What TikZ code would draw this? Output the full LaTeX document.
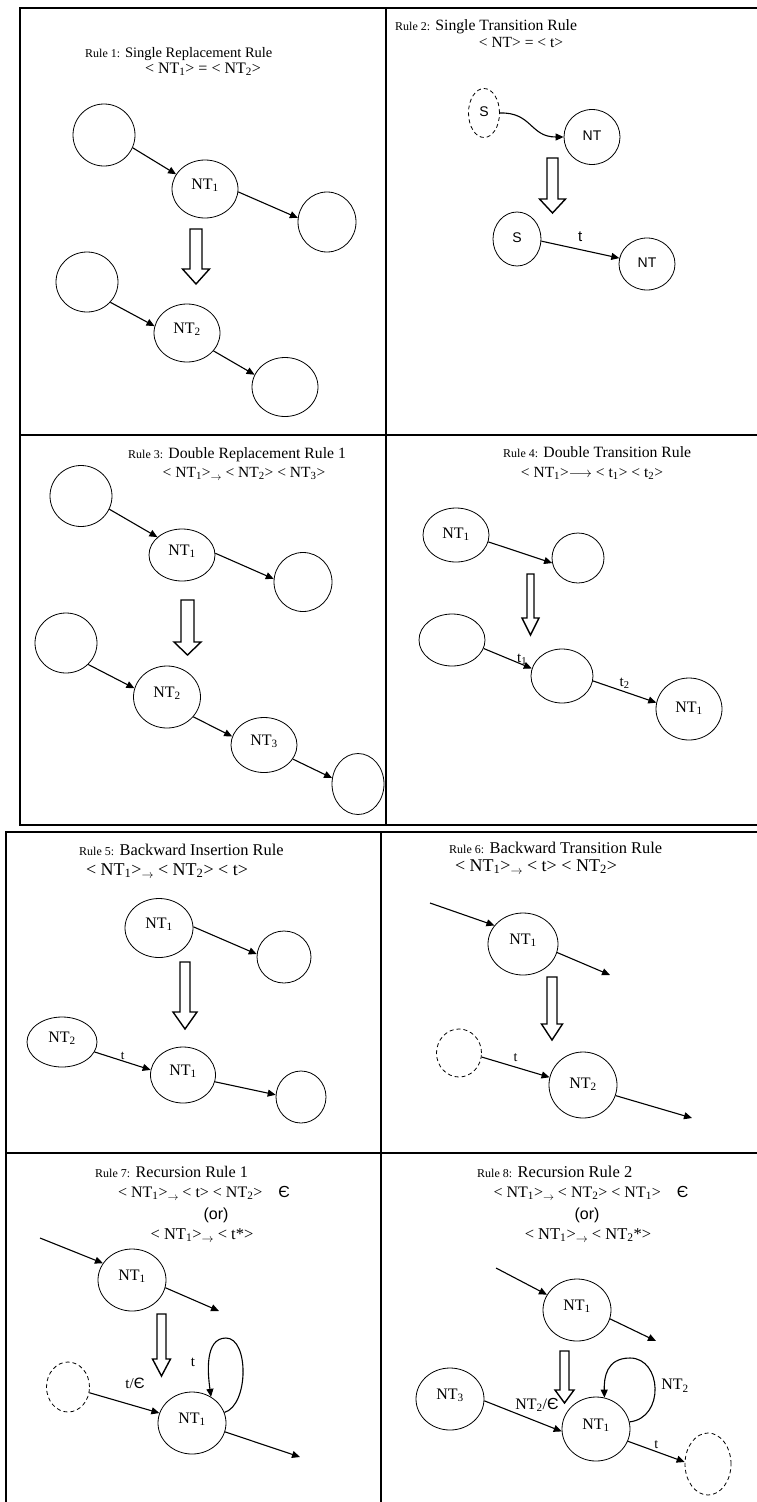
\documentclass[tikz,border=0pt]{standalone}
\usepackage{fontspec}
\setmainfont{Liberation Serif}
\newfontfamily\sans{Liberation Sans}
\usetikzlibrary{arrows.meta,shapes.geometric}

\newcommand{\rno}[1]{{\fontsize{12}{14}\selectfont Rule #1:} }
\newcommand{\ts}[1]{\textsubscript{#1}}
\newcommand{\sarr}{\raisebox{-3.5pt}{$\scriptstyle\rightarrow$}}
\newcommand{\eps}{{\sans Є}}
\newcommand{\fs}[1]{\fontsize{#1}{#1}\selectfont}

\begin{document}
\begin{tikzpicture}[x=1pt, y=-1pt,
    state/.style={draw, ellipse, inner sep=0pt, line width=0.8pt, font=\fs{16}, text depth=10pt},
    ghost/.style={state, dash pattern=on 4pt off 3pt},
    size/.style 2 args={minimum width=#1pt, minimum height=#2pt},
    sf/.style={font=\sans\fs{14}, text depth=2pt},
    edge/.style={-{Triangle[length=8pt,width=7pt]}, line width=1.1pt},
    grid/.style={line width=1.6pt},
    title/.style={anchor=base west, inner sep=0pt, font=\fs{15.7}},
    rule/.style={anchor=base, inner sep=0pt, font=\fs{15.5}},
    lab/.style={inner sep=1pt, font=\fs{13}},
    pics/rewrite/.style args={#1/#2/#3/#4}{code={
        \draw[line width=1.4pt] (-#2,0) -- (#2,0) -- (#2,#1-#4) -- (#3,#1-#4)
            -- (0,#1) -- (-#3,#1-#4) -- (-#2,#1-#4) -- cycle;
    }}]
    \useasboundingbox (0,0) rectangle (757,1502);

    % upper table
    \draw[grid] (760,8) -- (20,8) -- (20,825) -- (760,825);
    \draw[grid] (20,435) -- (760,435);
    \draw[grid] (386,8) -- (386,825);
    % lower table
    \draw[grid] (760,832) -- (6,832) -- (6,1505);
    \draw[grid] (6,1153) -- (760,1153);
    \draw[grid] (381,832) -- (381,1505);

    % rule 1
    \node[title, font=\fs{14.5}] (r1t) at (85,57) {\rno{1}Single Replacement Rule};
    \node[rule, font=\fs{16}] (r1f) at (203,73) {< NT\ts{1}> = < NT\ts{2}>};
    \node[state, size={62}{62}] (r1a) at (104,135) {};
    \node[state, size={66}{58}] (r1n) at (205,189) {NT\ts{1}};
    \node[state, size={58}{60}] (r1b) at (327,222) {};
    \draw[edge] (r1a.-24) -- (r1n.153);
    \draw[edge] (r1n.-5) -- (r1b.172);
    \pic at (196,229) {rewrite=55/6/13.5/15};
    \node[state, size={62}{60}] (r1c) at (87,282) {};
    \node[state, size={66}{58}] (r1m) at (187,333) {NT\ts{2}};
    \node[state, size={66}{59}] (r1d) at (285,387) {};
    \draw[edge] (r1c.-41) -- (r1m.168);
    \draw[edge] (r1m.-34) -- (r1d.158);

    % rule 2
    \node[title] (r2t) at (395,30.5) {\rno{2}Single Transition Rule};
    \node[rule] (r2f) at (521,47.5) {< NT> = < t>};
    \node[ghost, size={31}{49}, sf] (r2s) at (484,113) {S};
    \node[state, size={56}{55}, sf] (r2n) at (592,137) {NT};
    \draw[edge] (r2s.east) .. controls (532,112) and (530,137) .. (r2n.west);
    \pic at (552.5,158) {rewrite=55/5.5/13/14};
    \node[state, size={48}{54}, sf] (r2s') at (517,239) {S};
    \node[state, size={56}{52}, sf] (r2n') at (647,264) {NT};
    \draw[edge] (r2s'.-5) -- node[lab, sf, font=\sans\fs{15}, above=5pt] {t} (r2n'.168);

    % rule 3
    \node[title] (r3t) at (128,458) {\rno{3}Double Replacement Rule 1};
    \node[rule] (r3f) at (244,477) {< NT\ts{1}>\sarr{} < NT\ts{2}> < NT\ts{3}>};
    \node[state, size={62}{61}] (r3a) at (81,496) {};
    \node[state, size={66}{52}] (r3n) at (182,555) {NT\ts{1}};
    \node[state, size={58}{59}] (r3b) at (303,582) {};
    \draw[edge] (r3a.-25) -- (r3n.144);
    \draw[edge] (r3n.3) -- (r3b.174);
    \pic at (187.5,600) {rewrite=55/6.5/13.5/13};
    \node[state, size={62}{60}] (r3c) at (66,643) {};
    \node[state, size={67}{62}] (r3m) at (167,697) {NT\ts{2}};
    \node[state, size={66}{55}] (r3k) at (264,745) {NT\ts{3}};
    \node[state, size={52}{61}] (r3d) at (358,784) {};
    \draw[edge] (r3c.-44) -- (r3m.165);
    \draw[edge] (r3m.-37) -- (r3k.165);
    \draw[edge] (r3k.-26) -- (r3d.167);

    % rule 4
    \node[title] (r4t) at (503,457) {\rno{4}Double Transition Rule};
    \node[rule] (r4f) at (592,477) {< NT\ts{1}>$\longrightarrow$ < t\ts{1}> < t\ts{2}>};
    \node[state, size={66}{54}, text depth=4pt] (r4n) at (456,535) {NT\ts{1}};
    \node[state, size={52}{50}] (r4e) at (578,558) {};
    \draw[edge] (r4n.-12) -- (r4e.191);
    \pic at (530.5,574) {rewrite=61/3.5/8.5/17};
    \node[state, size={66}{52}] (r4l) at (452,640) {};
    \node[state, size={62}{54}] (r4m) at (562,676) {};
    \node[state, size={66}{62}, text depth=4pt] (r4n') at (689,709) {NT\ts{1}};
    \draw[edge] (r4l.-15) -- node[lab, pos=0.8, above=-2pt, font=\fs{15}] {t\ts{1}} (r4m.166);
    \draw[edge] (r4m.-9) -- node[lab, above=2pt, font=\fs{15}] {t\ts{2}} (r4n'.169);

    % rule 5
    \node[title, font=\fs{16.4}] (r5t) at (79,855) {\rno{5}Backward Insertion Rule};
    \node[rule, font=\fs{18}] (r5f) at (167,875) {< NT\ts{1}>\sarr{} < NT\ts{2}> < t>};
    \node[state, size={68}{59}] (r5n) at (159,928) {NT\ts{1}};
    \node[state, size={54}{52}] (r5e) at (284,957) {};
    \draw[edge] (r5n.2) -- (r5e.174);
    \pic at (185,962) {rewrite=67/5/12/17};
    \node[state, size={70}{50}] (r5m) at (62,1042) {NT\ts{2}};
    \node[state, size={65}{56}] (r5n') at (183,1075) {NT\ts{1}};
    \node[state, size={50}{52}] (r5e') at (301,1097) {};
    \draw[edge] (r5m.-17) -- node[lab, above=0pt] {t} (r5n'.171);
    \draw[edge] (r5n'.-12) -- (r5e'.175);

    % rule 6
    \node[title, font=\fs{16.4}] (r6t) at (449,853) {\rno{6}Backward Transition Rule};
    \node[rule, font=\fs{18}] (r6f) at (536,871) {< NT\ts{1}>\sarr{} < t> < NT\ts{2}>};
    \coordinate (r6i) at (430,903);
    \node[state, size={70}{62}] (r6n) at (523,944) {NT\ts{1}};
    \coordinate (r6o) at (610,975);
    \draw[edge] (r6i) -- (r6n.147);
    \draw[edge] (r6n.-14) -- (r6o);
    \pic at (552,977) {rewrite=63/5/10.5/16};
    \node[ghost, size={45}{48}] (r6d) at (459,1053) {};
    \node[state, size={68}{66}, text depth=4pt] (r6m) at (583,1085) {NT\ts{2}};
    \coordinate (r6o') at (692,1118);
    \draw[edge] (r6d.-10) -- node[lab, font=\fs{14}, above=4pt] {t} (r6m.167);
    \draw[edge] (r6m.-18) -- (r6o');

    % rule 7
    \node[title, font=\fs{16.2}] (r7t) at (95,1177) {\rno{7}Recursion Rule 1};
    \node[rule, font=\fs{16}] (r7f) at (204,1197) {< NT\ts{1}>\sarr{} < t> < NT\ts{2}>\quad\eps};
    \node[rule, font=\sans\fs{16}] (r7o) at (216,1219) {(or)};
    \node[rule, font=\fs{16.5}] (r7g) at (202,1239) {< NT\ts{1}>\sarr{} < t*>};
    \coordinate (r7i) at (40,1238);
    \node[state, size={68}{62}] (r7n) at (132,1280) {NT\ts{1}};
    \coordinate (r7o') at (219,1311);
    \draw[edge] (r7i) -- (r7n.150);
    \draw[edge] (r7n.-13) -- (r7o');
    \pic at (161.5,1314) {rewrite=62/4.5/9/17};
    \node[ghost, size={43}{50}] (r7d) at (68,1387) {};
    \node[state, size={68}{62}] (r7m) at (192,1423) {NT\ts{1}};
    \coordinate (r7p) at (300,1457);
    \draw[edge] (r7d.-15) -- (r7m.163);
    \draw[edge] (r7m.18) .. controls (249,1405) and (249,1338) .. (226,1338)
        .. controls (204,1338) and (208,1375) .. (r7m.54);
    \draw[edge] (r7m.-15) -- (r7p);
    \node[lab, font=\fs{15}] (r7l) at (193,1362) {t};
    \node[lab, font=\fs{15}] (r7l') at (135,1383) {t/\eps};

    % rule 8
    \node[title, font=\fs{16.5}] (r8t) at (477,1177) {\rno{8}Recursion Rule 2};
    \node[rule, font=\fs{16}] (r8f) at (591,1197) {< NT\ts{1}>\sarr{} < NT\ts{2}> < NT\ts{1}>\quad\eps};
    \node[rule, font=\sans\fs{16}] (r8o) at (587,1219) {(or)};
    \node[rule, font=\fs{16.5}] (r8g) at (588,1239) {< NT\ts{1}>\sarr{} < NT\ts{2}*>};
    \coordinate (r8i) at (496,1268);
    \node[state, size={68}{62}] (r8n) at (577,1310) {NT\ts{1}};
    \coordinate (r8o') at (656,1341);
    \draw[edge] (r8i) -- (r8n.153);
    \draw[edge] (r8n.-15) -- (r8o');
    \pic at (564.5,1351) {rewrite=52/4.5/9.5/13};
    \node[state, size={68}{62}] (r8k) at (450,1399) {NT\ts{3}};
    \node[state, size={68}{64}] (r8m) at (596,1429) {NT\ts{1}};
    \node[ghost, size={46}{62}] (r8d) at (708,1464) {};
    \draw[edge] (r8k.-3) -- (r8m.184);
    \draw[edge] (r8m.12) .. controls (665,1418) and (662,1358) .. (630,1358)
        .. controls (606,1358) and (604,1378) .. (r8m.75);
    \draw[edge] (r8m.-21) -- node[lab, font=\fs{14}, above=1pt] {t} (r8d.175);
    \node[lab, font=\fs{16}] (r8l) at (675,1386) {NT\ts{2}};
    \node[lab, font=\fs{16}] (r8l') at (537,1405) {NT\ts{2}/\eps};
\end{tikzpicture}
\end{document}
